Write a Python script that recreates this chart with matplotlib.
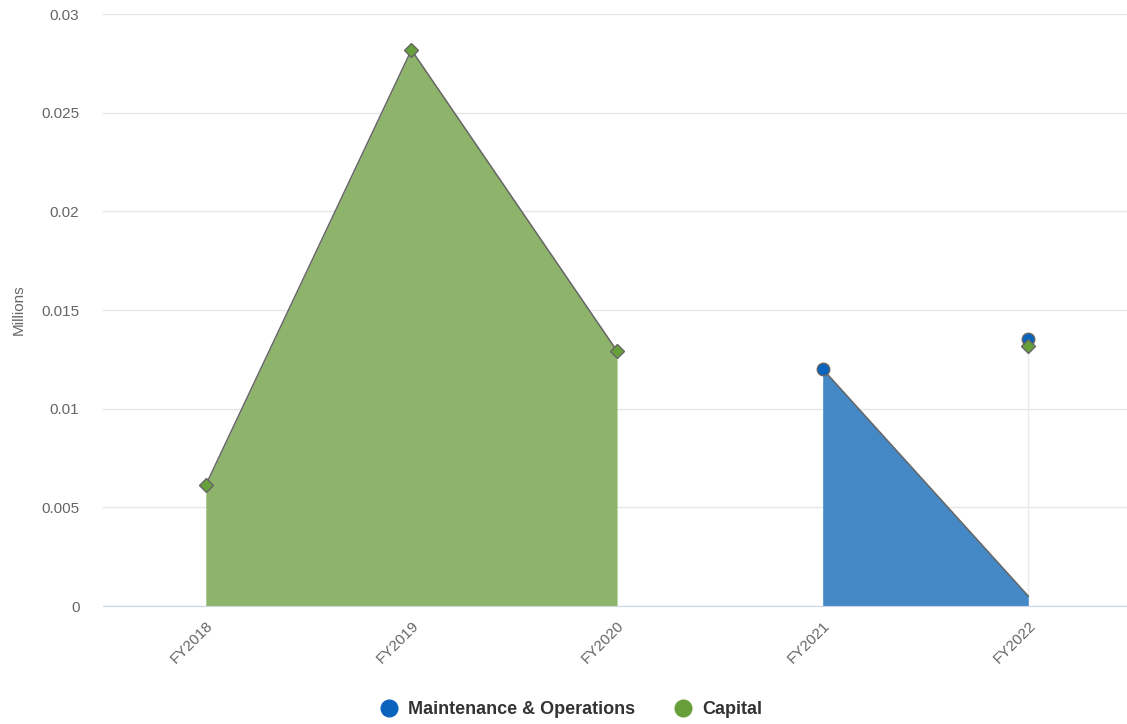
import numpy as np
import matplotlib
matplotlib.use('Agg')
import matplotlib.pyplot as plt

plt.rcParams['font.family'] = ['Liberation Sans', 'DejaVu Sans']

years = ['FY2018', 'FY2019', 'FY2020', 'FY2021', 'FY2022']
capital = [0.00613, 0.02818, 0.01292, np.nan, 0.01318]
mo_points = [np.nan, np.nan, np.nan, 0.01201, 0.01353]
mo_area = [np.nan, np.nan, np.nan, 0.01201, 0.0005]   # drawn shape of the M&O area
yticks = [0, 0.005, 0.01, 0.015, 0.02, 0.025, 0.03]
ytick_labels = ['0', '0.005', '0.01', '0.015', '0.02', '0.025', '0.03']

BLUE = '#0a64bd'
GREEN = '#67a03a'
x = np.arange(len(years))

fig = plt.figure(figsize=(11.27, 7.24), dpi=100)
ax = fig.add_axes([103/1127, 1-606/724, 1-103/1127, (606-14)/724])

# Capital area (first three years)
cap = np.array(capital)
m = ~np.isnan(cap)
m[4] = False
ax.fill_between(x[m], 0, cap[m], color='#8db46a', lw=0, zorder=2)
ax.plot(x[m], cap[m], color='#666666', lw=1.1, zorder=3)

# M&O area
mo = np.array(mo_area)
k = ~np.isnan(mo)
ax.fill_between(x[k], 0, mo[k], color='#4489c6', lw=0, zorder=2)
ax.plot(x[k], mo[k], color='#666666', lw=1.1, zorder=3)

# faint vertical line at FY2022
ax.vlines(4, 0.0005, capital[4], color='#ebebeb', lw=1, zorder=1)

ax.plot(x, mo_points, 'o', color=BLUE, ms=9, mec='#666666', mew=1, zorder=5, ls='none')
ax.plot(x, capital, 'D', color=GREEN, ms=7, mec='#666666', mew=1, zorder=6, ls='none')

ax.set_xlim(-0.5, 4.48)
ax.set_ylim(0, 0.03)
ax.set_yticks(yticks)
ax.set_yticklabels(ytick_labels)
ax.set_xticks(x)
ax.set_xticklabels(years, rotation=45, ha='right', rotation_mode='anchor')
ax.tick_params(axis='x', length=0, pad=9, labelsize=11, colors='#666666')
ax.tick_params(axis='y', length=0, pad=17, labelsize=11, colors='#666666')
ax.grid(axis='y', color='#e6e6e6', lw=1, zorder=0)
ax.set_axisbelow(True)
for s in ['top', 'right', 'left']:
    ax.spines[s].set_visible(False)
ax.spines['bottom'].set_color('#ccd6eb')
ax.set_ylabel('Millions', color='#666666', fontsize=11)
ax.yaxis.set_label_coords(-0.075, 0.5)

h1 = plt.Line2D([], [], marker='o', ls='none', color=BLUE, ms=12)
h2 = plt.Line2D([], [], marker='o', ls='none', color=GREEN, ms=12)
leg = fig.legend([h1, h2], ['Maintenance & Operations', 'Capital'], loc='center',
                 bbox_to_anchor=(571/1127, 1-710/724), ncol=2, frameon=False,
                 prop={'weight': 'bold', 'size': 13}, handletextpad=0.55,
                 columnspacing=2.2, handlelength=1.0)
for t in leg.get_texts():
    t.set_color('#333333')

fig.savefig('out.png', dpi=100)
